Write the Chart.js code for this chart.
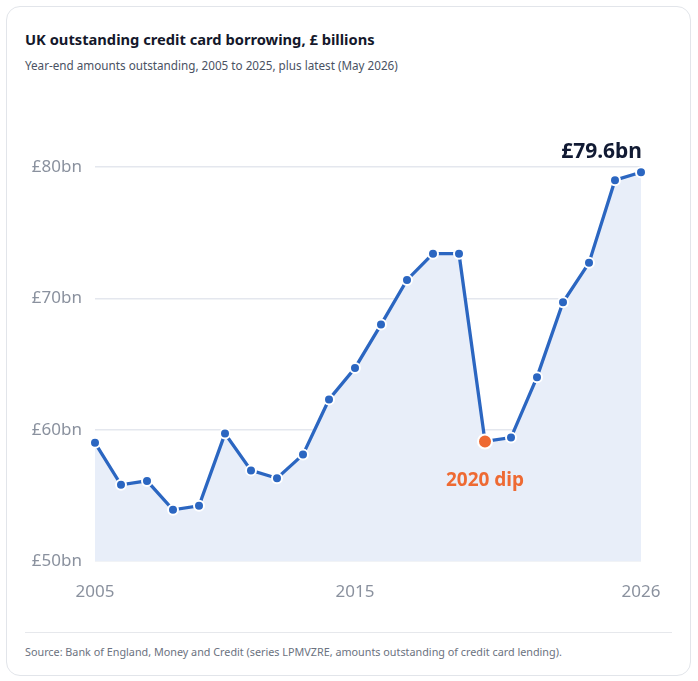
<!DOCTYPE html>
<html>
<head>
<meta charset="utf-8">
<script src="https://cdn.jsdelivr.net/npm/chart.js@4"></script>
<style>
  body { margin: 0; background: #fff; font-family: "Noto Sans", "Open Sans", sans-serif; }
  .card {
    position: absolute; left: 6px; top: 6px; width: 683px; height: 668px;
    border: 1px solid #e2e5ea; border-radius: 14px; background: #fff;
  }
  .title { position: absolute; left: 18px; top: 22px; font-size: 14.7px; font-weight: 700; color: #14182b; }
  .sub { position: absolute; left: 18px; top: 50px; font-size: 11.7px; color: #4a5263; }
  .rule { position: absolute; left: 18px; right: 18px; top: 625px; border-top: 1px solid #e6e8ec; }
  .src { position: absolute; left: 18px; top: 637px; font-size: 10.8px; color: #6b7280; }
  #chart { position: absolute; left: 0; top: 0; }
</style>
</head>
<body>
<div class="card">
  <div class="title">UK outstanding credit card borrowing, £ billions</div>
  <div class="sub">Year-end amounts outstanding, 2005 to 2025, plus latest (May 2026)</div>
  <div class="rule"></div>
  <div class="src">Source: Bank of England, Money and Credit (series LPMVZRE, amounts outstanding of credit card lending).</div>
</div>
<canvas id="chart" width="698" height="681"></canvas>
<script>
// years on the x axis
const years = ['2005','2006','2007','2008','2009','2010','2011','2012','2013','2014','2015',
  '2016','2017','2018','2019','2020','2021','2022','2023','2024','2025','2026']
// £bn outstanding
const borrowing = [59.0, 55.8, 56.1, 53.9, 54.2, 59.7, 56.9, 56.3, 58.1, 62.3, 64.7,
  68.0, 71.4, 73.4, 73.4, 59.1, 59.4, 64.0, 69.7, 72.7, 79.0, 79.6]
const shownYears = ['2005', '2015', '2026']
const yTicks = [50, 60, 70, 80]
const dipYear = '2020'

const lineBlue = '#2b66c1'
const orange = '#ee6a33'

const annotations = {
  id: 'annotations',
  afterDatasetsDraw(chart) {
    const ctx = chart.ctx
    const meta = chart.getDatasetMeta(0)
    const last = meta.data[meta.data.length - 1]
    const dip = meta.data[years.indexOf(dipYear)]
    ctx.save()
    ctx.font = 'bold 21px "Noto Sans", sans-serif'
    ctx.fillStyle = '#111a33'
    ctx.textAlign = 'right'
    ctx.textBaseline = 'bottom'
    ctx.fillText('£' + borrowing[borrowing.length - 1].toFixed(1) + 'bn', last.x + 1, last.y - 10)
    ctx.font = 'bold 19px "Noto Sans", sans-serif'
    ctx.fillStyle = orange
    ctx.textAlign = 'center'
    ctx.textBaseline = 'middle'
    ctx.fillText(dipYear + ' dip', dip.x, dip.y + 39)
    ctx.restore()
  }
}

const ctx = document.getElementById('chart').getContext('2d')
const chart = new Chart(ctx, {
  type: 'line',
  data: {
    labels: years,
    datasets: [{
      data: borrowing,
      borderColor: lineBlue,
      borderWidth: 3.3,
      fill: 'start',
      backgroundColor: '#e8eef9',
      tension: 0,
      clip: false,
      pointRadius: years.map(y => y === dipYear ? 7 : 5),
      pointBackgroundColor: years.map(y => y === dipYear ? orange : lineBlue),
      pointBorderColor: '#ffffff',
      pointBorderWidth: 2,
    }]
  },
  options: {
    responsive: false,
    animation: false,
    layout: { padding: { left: 0, right: 57, top: 167, bottom: 80 } },
    plugins: { legend: { display: false }, tooltip: { enabled: false } },
    scales: {
      x: {
        grid: { display: false },
        border: { display: false },
        afterFit: (s) => { s.height = 40 },
        ticks: {
          autoSkip: false,
          maxRotation: 0,
          padding: 13,
          color: '#8a919e',
          font: { size: 17, family: '"Noto Sans", sans-serif' },
          callback: function (v) {
            const l = this.getLabelForValue(v)
            return shownYears.includes(l) ? l : ''
          }
        }
      },
      y: {
        min: 50,
        max: 80,
        afterFit: (s) => { s.width = 95 },
        afterBuildTicks: (s) => { s.ticks = yTicks.map(v => ({ value: v })) },
        border: { display: false },
        grid: { color: '#e4e7ee', lineWidth: 1.5, drawTicks: false },
        ticks: {
          padding: 13,
          color: '#8a919e',
          font: { size: 17, family: '"Noto Sans", sans-serif' },
          callback: (v) => '£' + v + 'bn'
        }
      }
    }
  },
  plugins: [annotations]
})
</script>
</body>
</html>
